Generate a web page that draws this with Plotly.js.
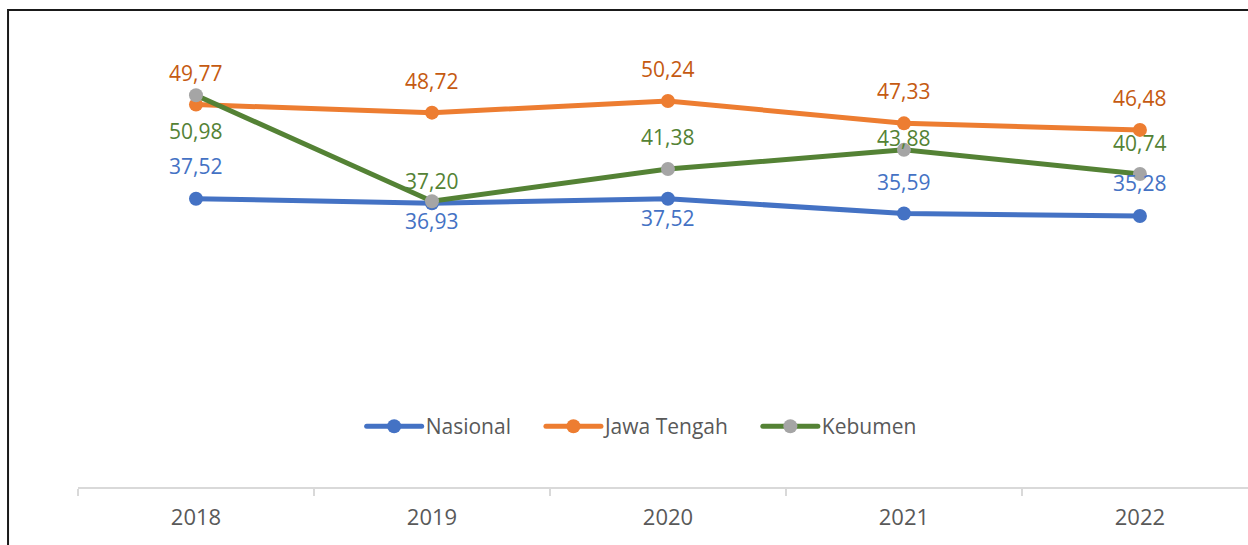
<!DOCTYPE html>
<html>
<head>
<meta charset="utf-8">
<script src="https://cdn.plot.ly/plotly-3.0.1.min.js"></script>
<style>html,body{margin:0;padding:0;overflow:hidden;background:#fff;}#chart{width:1248px;height:545px;}</style>
</head>
<body>
<div id="chart"></div>
<script>
const years = ['2018', '2019', '2020', '2021', '2022'];
const nasional = [37.52, 36.93, 37.52, 35.59, 35.28];
const jawaTengah = [49.77, 48.72, 50.24, 47.33, 46.48];
const kebumen = [50.98, 37.20, 41.38, 43.88, 40.74];
const seriesNames = ['Nasional', 'Jawa Tengah', 'Kebumen'];

// label vertical offsets in px (style only)
const offNas = [33, -18, -19, 32, 33];
const offJat = [32, 32, 32, 32, 32];
const offKeb = [-36, 20, 32, 12, 31];

const FONT = '"Open Sans", "Noto Sans", sans-serif';
const fmt = v => v.toFixed(2).replace('.', ',');

const traces = [
  {name: seriesNames[0], x: years, y: nasional, lineColor: '#4472C4', markerColor: '#4472C4'},
  {name: seriesNames[1], x: years, y: jawaTengah, lineColor: '#ED7D31', markerColor: '#ED7D31'},
  {name: seriesNames[2], x: years, y: kebumen, lineColor: '#548235', markerColor: '#A5A5A5'}
].map(s => ({
  type: 'scatter', mode: 'lines+markers', name: s.name, x: s.x, y: s.y,
  line: {color: s.lineColor, width: 5},
  marker: {color: s.markerColor, size: 14},
  hoverinfo: 'skip'
}));

const labelSets = [
  {y: nasional, off: offNas, color: '#4472C4'},
  {y: jawaTengah, off: offJat, color: '#C55A11'},
  {y: kebumen, off: offKeb, color: '#548235'}
];
const annotations = [];
labelSets.forEach(ls => {
  ls.y.forEach((v, i) => {
    annotations.push({
      x: years.indexOf(years[i]), y: v, xref: 'x', yref: 'y', text: fmt(v), showarrow: false,
      yshift: ls.off[i], font: {family: FONT, size: 21, color: ls.color}
    });
  });
});

const layout = {
  width: 1248, height: 545,
  margin: {l: 78, r: 0, t: 26, b: 58, pad: 0},
  paper_bgcolor: '#fff', plot_bgcolor: '#fff',
  showlegend: true,
  legend: {orientation: 'h', x: 0.5, xanchor: 'center', y: 0.131, yanchor: 'middle',
           font: {family: FONT, size: 21, color: '#595959'}, bgcolor: 'rgba(0,0,0,0)'},
  xaxis: {type: 'category', range: [-0.5, 4.458], showgrid: false, zeroline: false,
          showline: true, linecolor: '#D9D9D9', linewidth: 2,
          ticks: 'outside', tickson: 'boundaries', ticklen: 7, tickwidth: 1.5, tickcolor: '#D9D9D9',
          ticklabelstandoff: 10,
          tickfont: {family: FONT, size: 22, color: '#595959'}, fixedrange: true},
  yaxis: {range: [0, 60], visible: false, showgrid: false, zeroline: false, fixedrange: true},
  annotations: annotations,
  shapes: [{type: 'rect', xref: 'paper', yref: 'paper',
            x0: -0.0598, x1: 1.2, y0: -0.5, y1: 1.0347,
            line: {color: '#1a1a1a', width: 2}, fillcolor: 'rgba(0,0,0,0)', layer: 'below'}]
};

// Excel-style legend entries: longer symbol line, wider gaps
function restyleLegend(gd) {
  const leg = gd.querySelector('g.legend');
  if (!leg) return;
  const m = /translate\(([-\d.]+)[ ,]+([-\d.]+)\)/.exec(leg.getAttribute('transform') || '');
  const legX = m ? parseFloat(m[1]) : 0;
  leg.querySelectorAll('[clip-path]').forEach(el => el.removeAttribute('clip-path'));
  const bg = leg.querySelector('rect.bg'); if (bg) bg.setAttribute('width', 0);
  const items = Array.from(leg.querySelectorAll('g.traces'));
  const SYM = 55, TGAP = 4, IGAP = 35;
  const widths = items.map(it => {
    const t = it.querySelector('text.legendtext');
    return t ? t.getComputedTextLength() : 0;
  });
  const total = widths.reduce((a, w) => a + SYM + TGAP + w, 0) + IGAP * (items.length - 1);
  let x = 641.5 - total / 2;
  items.forEach((it, i) => {
    const tm = /translate\(([-\d.]+)[ ,]+([-\d.]+)\)/.exec(it.getAttribute('transform') || '');
    const ty = tm ? parseFloat(tm[2]) : 0;
    it.setAttribute('transform', 'translate(' + (x - legX) + ',' + ty + ')');
    it.querySelectorAll('path.js-line').forEach(p => { p.setAttribute('d', 'M0,0h' + SYM); p.style.strokeWidth = '5px'; p.style.strokeLinecap = 'round'; });
    it.querySelectorAll('g.legendpoints path.scatterpts').forEach(p => p.setAttribute('transform', 'translate(' + (SYM / 2) + ',0)'));
    const t = it.querySelector('text.legendtext');
    if (t) {
      t.setAttribute('x', SYM + TGAP);
      t.querySelectorAll('tspan').forEach(s => { if (s.hasAttribute('x')) s.setAttribute('x', SYM + TGAP); });
    }
    x += SYM + TGAP + widths[i] + IGAP;
  });
}

Plotly.newPlot('chart', traces, layout, {staticPlot: true, displayModeBar: false}).then(restyleLegend);
</script>
</body>
</html>
